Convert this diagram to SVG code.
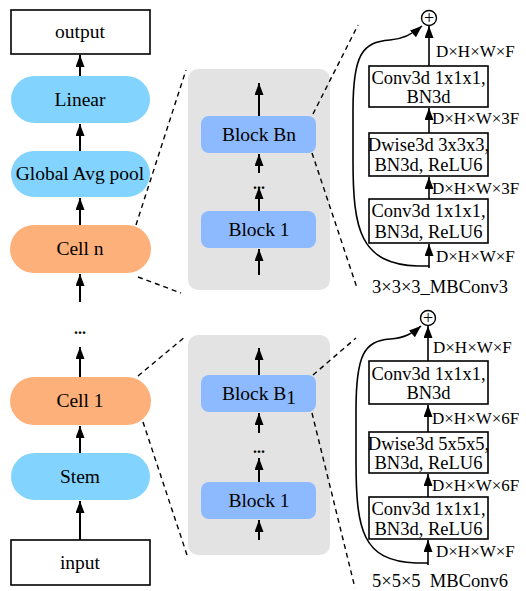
<svg xmlns="http://www.w3.org/2000/svg" width="526" height="591" viewBox="0 0 526 591">
<defs>
<marker id="ah" markerUnits="userSpaceOnUse" markerWidth="13" markerHeight="9" refX="12" refY="4.5" orient="auto"><path d="M0,0 L12,4.5 L0,9 z" fill="#000"/></marker>
<style>
text{font-family:"Liberation Serif","Times New Roman",serif;fill:#000;text-anchor:middle}
.t{font-size:18.5px}
.L{font-size:19.5px}
.s{font-size:17px;text-anchor:start}
.pb{fill:#82d4fe}
.po{fill:#feb07a}
.bb{fill:#8dbaff}
.box{fill:#fff;stroke:#000;stroke-width:1.6}
.ar{stroke:#000;stroke-width:2;fill:none;marker-end:url(#ah)}
.ar2{stroke:#000;stroke-width:1.6;fill:none;marker-end:url(#ah)}
.dash{stroke:#000;stroke-width:1.4;stroke-dasharray:5,4;fill:none}
.dots{font-size:16px;font-weight:bold}
</style>
</defs>
<g id="panel-top"><rect x="188" y="69" width="142" height="221" rx="10" fill="#e3e3e3"/></g>
<g id="panel-bottom"><rect x="188" y="335" width="142" height="220" rx="10" fill="#e3e3e3"/></g>
<g id="output"><rect x="11" y="10" width="139" height="44" class="box"/><text class="L" x="80" y="38">output</text></g>
<g id="linear"><rect x="11" y="76" width="139" height="47" rx="23.5" class="pb"/><text class="L" x="80" y="106">Linear</text></g>
<g id="gap"><rect x="11" y="151" width="139" height="46" rx="23" class="pb"/><text class="L" x="80" y="180">Global Avg pool</text></g>
<g id="celln"><rect x="10" y="225" width="141" height="48" rx="24" class="po"/><text class="L" x="80" y="255">Cell n</text></g>
<g id="dots-left"><text class="dots" x="80" y="334">...</text></g>
<g id="cell1"><rect x="10" y="377" width="141" height="48" rx="24" class="po"/><text class="L" x="80" y="407">Cell 1</text></g>
<g id="stem"><rect x="11" y="453" width="139" height="47" rx="23.5" class="pb"/><text class="L" x="80" y="483">Stem</text></g>
<g id="input"><rect x="11" y="540" width="139" height="45" class="box"/><text class="L" x="80" y="569">input</text></g>
<g id="blockbn"><rect x="201" y="116" width="115" height="37" rx="8" class="bb"/><text class="L" x="259" y="141">Block Bn</text></g>
<g id="dots-mid1"><text class="dots" x="259" y="189">...</text></g>
<g id="block1a"><rect x="201" y="211" width="115" height="37" rx="8" class="bb"/><text class="L" x="259" y="236">Block 1</text></g>
<g id="blockb1"><rect x="201" y="375" width="115" height="37" rx="8" class="bb"/><text class="L" x="259" y="400">Block B<tspan dy="4">1</tspan></text></g>
<g id="dots-mid2"><text class="dots" x="259" y="453">...</text></g>
<g id="block1b"><rect x="201" y="482" width="115" height="37" rx="8" class="bb"/><text class="L" x="259" y="507">Block 1</text></g>
<g id="top-plus"><circle cx="429" cy="18" r="7.5" fill="#fff" stroke="#000" stroke-width="1.4"/><text x="429" y="24" style="font-size:18px">+</text></g>
<g id="top-c3"><rect x="369" y="66" width="119" height="41" class="box"/><text class="t" x="428.5" y="84">Conv3d 1x1x1,</text><text class="t" x="428.5" y="103">BN3d</text></g>
<g id="top-dw"><rect x="369" y="133" width="119" height="43" class="box"/><text class="t" x="428.5" y="151">Dwise3d 3x3x3,</text><text class="t" x="428.5" y="171">BN3d, ReLU6</text></g>
<g id="top-c1"><rect x="369" y="199" width="119" height="44" class="box"/><text class="t" x="428.5" y="217">Conv3d 1x1x1,</text><text class="t" x="428.5" y="238">BN3d, ReLU6</text></g>
<g id="bot-plus"><circle cx="428" cy="318" r="7.5" fill="#fff" stroke="#000" stroke-width="1.4"/><text x="428" y="324" style="font-size:18px">+</text></g>
<g id="bot-c3"><rect x="369" y="361" width="119" height="43" class="box"/><text class="t" x="428.5" y="380">Conv3d 1x1x1,</text><text class="t" x="428.5" y="399">BN3d</text></g>
<g id="bot-dw"><rect x="369" y="432" width="119" height="41" class="box"/><text class="t" x="428.5" y="450">Dwise3d 5x5x5,</text><text class="t" x="428.5" y="469">BN3d, ReLU6</text></g>
<g id="bot-c1"><rect x="369" y="497" width="119" height="42" class="box"/><text class="t" x="428.5" y="515">Conv3d 1x1x1,</text><text class="t" x="428.5" y="535">BN3d, ReLU6</text></g>
<g id="labels">
<text class="s" x="436" y="57">D×H×W×F</text>
<text class="s" x="432" y="124">D×H×W×3F</text>
<text class="s" x="432" y="194">D×H×W×3F</text>
<text class="s" x="436" y="262">D×H×W×F</text>
<text class="t" x="372" y="293" style="text-anchor:start">3×3×3_MBConv3</text>
<text class="s" x="433" y="353">D×H×W×F</text>
<text class="s" x="432" y="424">D×H×W×6F</text>
<text class="s" x="432" y="491">D×H×W×6F</text>
<text class="s" x="436" y="557">D×H×W×F</text>
<text class="t" x="372" y="587" style="text-anchor:start;white-space:pre" xml:space="preserve">5×5×5  MBConv6</text>
</g>
<g id="connectors">
<line class="ar" x1="80" y1="76" x2="80" y2="55"/>
<line class="ar" x1="80" y1="151" x2="80" y2="124"/>
<line class="ar" x1="80" y1="225" x2="80" y2="198"/>
<line class="ar" x1="80" y1="302" x2="80" y2="274"/>
<line class="ar" x1="80" y1="377" x2="80" y2="347"/>
<line class="ar" x1="80" y1="453" x2="80" y2="426"/>
<line class="ar" x1="80" y1="540" x2="80" y2="501"/>
<line class="ar" x1="259" y1="116" x2="259" y2="83"/>
<line class="ar" x1="259" y1="173" x2="259" y2="154"/>
<line class="ar" x1="259" y1="211" x2="259" y2="187"/>
<line class="ar" x1="259" y1="275" x2="259" y2="249"/>
<line class="ar" x1="259" y1="375" x2="259" y2="348"/>
<line class="ar" x1="259" y1="433" x2="259" y2="413"/>
<line class="ar" x1="259" y1="482" x2="259" y2="458"/>
<line class="ar" x1="259" y1="540" x2="259" y2="520"/>
<line class="ar2" x1="429" y1="66" x2="429" y2="26"/>
<line class="ar2" x1="429" y1="133" x2="429" y2="108"/>
<line class="ar2" x1="429" y1="199" x2="429" y2="177"/>
<line class="ar2" x1="429" y1="268" x2="429" y2="244"/>
<path class="ar2" d="M429,266 L418,266 C360,264 353,230 353,160 L353,110 C353,55 362,42 390,40 C405,39 414,33 422,26"/>
<line class="ar2" x1="428" y1="361" x2="428" y2="326"/>
<line class="ar2" x1="428" y1="432" x2="428" y2="405"/>
<line class="ar2" x1="428" y1="497" x2="428" y2="474"/>
<line class="ar2" x1="428" y1="565" x2="428" y2="540"/>
<path class="ar2" d="M428,563 L416,563 C362,561 356,530 356,460 L356,410 C356,355 364,341 390,339 C405,338 413,333 421,326"/>
<line class="dash" x1="136" y1="225" x2="186" y2="70"/>
<line class="dash" x1="138" y1="277" x2="181" y2="293"/>
<line class="dash" x1="313" y1="114" x2="358" y2="25"/>
<line class="dash" x1="312" y1="153" x2="357" y2="288"/>
<line class="dash" x1="138" y1="376" x2="186" y2="336"/>
<line class="dash" x1="143" y1="422" x2="187" y2="555"/>
<line class="dash" x1="313" y1="375" x2="356" y2="338"/>
<line class="dash" x1="312" y1="413" x2="355" y2="588"/>
</g>
</svg>
